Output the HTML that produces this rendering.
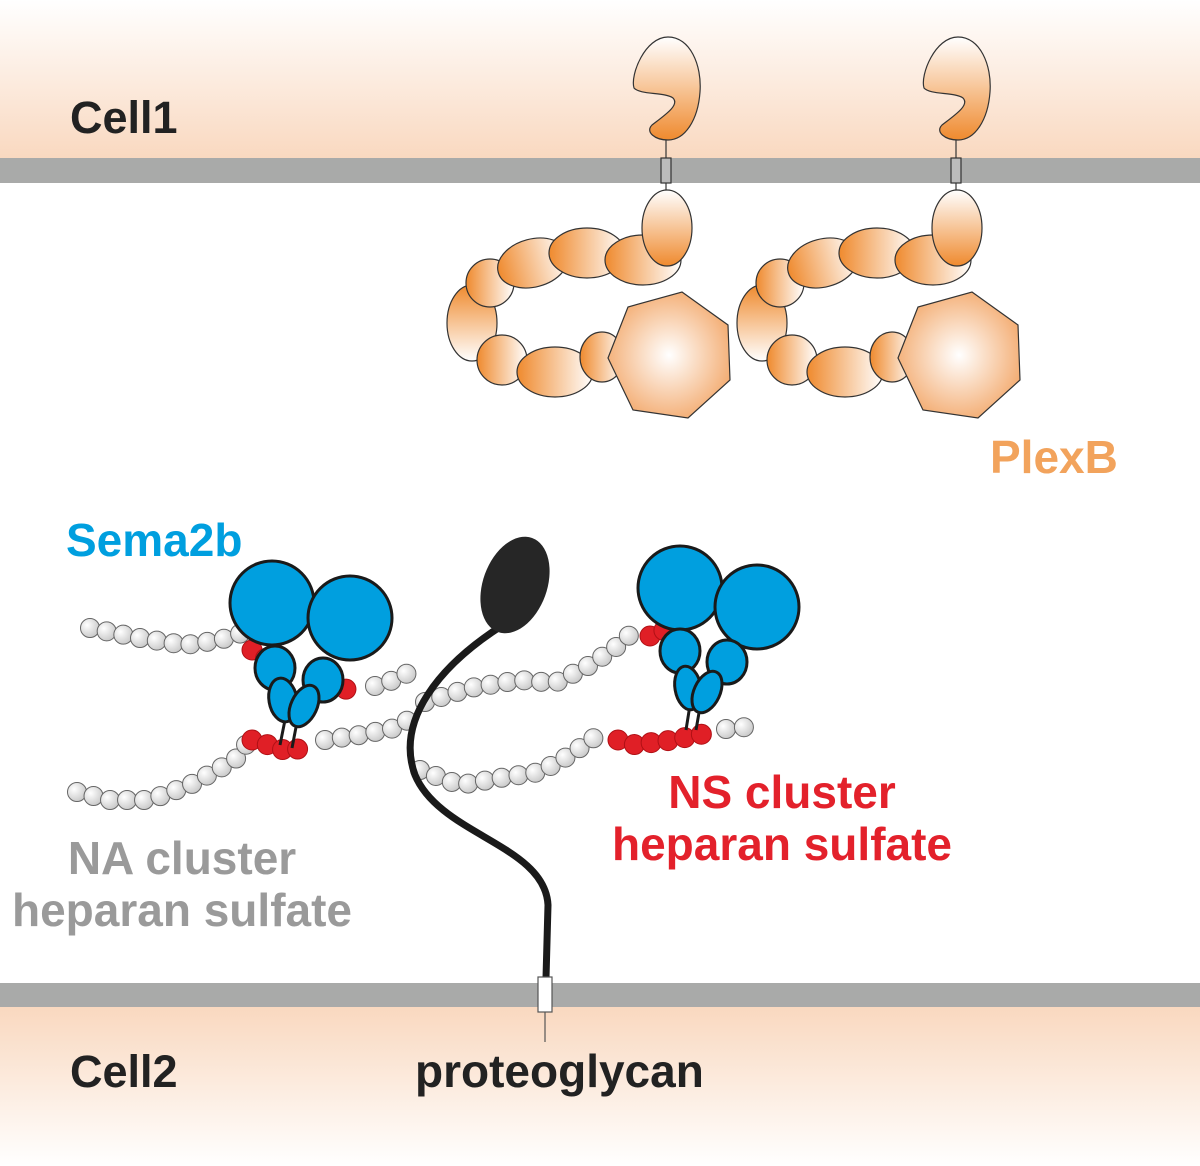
<!DOCTYPE html>
<html><head><meta charset="utf-8"><style>
body{margin:0;background:#fff}
svg{display:block}
text{font-family:"Liberation Sans",Arial,sans-serif;font-weight:bold}
</style></head><body>
<svg id="s" width="1200" height="1166" viewBox="0 0 1200 1166" xmlns="http://www.w3.org/2000/svg">
<defs>
<linearGradient id="top" x1="0" y1="0" x2="0" y2="1"><stop offset="0" stop-color="#fff"/><stop offset="1" stop-color="#f9d8bf"/></linearGradient>
<linearGradient id="bot" x1="0" y1="0" x2="0" y2="1"><stop offset="0" stop-color="#f9d8bf"/><stop offset="1" stop-color="#fff"/></linearGradient>
<radialGradient id="bead" cx="0.35" cy="0.35" r="0.7"><stop offset="0" stop-color="#fff"/><stop offset="1" stop-color="#c8c8c8"/></radialGradient>
<linearGradient id="og" x1="0" y1="0" x2="1" y2="0"><stop offset="0" stop-color="#ef8a2e"/><stop offset="1" stop-color="#fff"/></linearGradient>
<linearGradient id="ogv" x1="0" y1="1" x2="0" y2="0"><stop offset="0" stop-color="#ef8a2e"/><stop offset="1" stop-color="#fff"/></linearGradient>
<linearGradient id="ogd" x1="0" y1="0" x2="0" y2="1"><stop offset="0" stop-color="#ef8a2e"/><stop offset="1" stop-color="#fff"/></linearGradient>
<radialGradient id="hep" cx="0.5" cy="0.5" r="0.6"><stop offset="0" stop-color="#fff"/><stop offset="1" stop-color="#f2a362"/></radialGradient>
<g id="plex" stroke="#333" stroke-width="1.2">
<line x1="666" y1="135" x2="666" y2="190"/>
<rect x="661" y="158" width="10" height="25" fill="#bbb"/>
<path d="M668,37 C690,37 702,65 700,92 C698,120 685,140 668,140 C655,140 645,132 652,125 C665,115 680,105 673,98 C665,92 640,95 634,88 C630,75 645,37 668,37 Z" fill="url(#ogv)"/>
<ellipse cx="472" cy="323" rx="25" ry="38" fill="url(#ogd)"/>
<ellipse cx="502" cy="360" rx="25" ry="25" fill="url(#og)"/>
<ellipse cx="555" cy="372" rx="38" ry="25" fill="url(#og)"/>
<ellipse cx="602" cy="357" rx="22" ry="25" fill="url(#og)"/>
<ellipse cx="490" cy="283" rx="24" ry="24" fill="url(#og)"/>
<ellipse cx="533" cy="263" rx="36" ry="24" fill="url(#og)" transform="rotate(-15 533 263)"/>
<ellipse cx="587" cy="253" rx="38" ry="25" fill="url(#og)"/>
<ellipse cx="643" cy="260" rx="38" ry="25" fill="url(#og)"/>
<ellipse cx="667" cy="228" rx="25" ry="38" fill="url(#ogd)" transform="rotate(180 667 228)"/>
<polygon points="682,292 728,325 730,380 688,418 633,410 608,358 628,307" fill="url(#hep)"/>
</g>
</defs>
<rect x="0" y="0" width="1200" height="160" fill="url(#top)"/>
<rect x="0" y="158" width="1200" height="25" fill="#a9aaa9"/>
<rect x="0" y="1006" width="1200" height="160" fill="url(#bot)"/>
<rect x="0" y="983" width="1200" height="24" fill="#a9aaa9"/>
<use href="#plex"/>
<use href="#plex" x="290"/>
<g id="beads"></g>
<g stroke="#1a1a1a" stroke-width="3">
<line x1="285" y1="720" x2="280" y2="745"/><line x1="297" y1="722" x2="292" y2="748"/>
<line x1="690" y1="705" x2="686" y2="730"/><line x1="700" y1="707" x2="696" y2="730"/>
</g>
<g fill="#009fdf" stroke="#1a1a1a" stroke-width="3">
<circle cx="272" cy="603" r="42"/><circle cx="350" cy="618" r="42"/>
<ellipse cx="275" cy="668" rx="20" ry="22"/><ellipse cx="323" cy="680" rx="20" ry="22"/>
<ellipse cx="283" cy="700" rx="14" ry="22" transform="rotate(-10 283 700)"/>
<ellipse cx="304" cy="706" rx="13" ry="22" transform="rotate(25 304 706)"/>
<circle cx="680" cy="588" r="42"/><circle cx="757" cy="607" r="42"/>
<ellipse cx="680" cy="651" rx="20" ry="22"/><ellipse cx="727" cy="662" rx="20" ry="22"/>
<ellipse cx="688" cy="688" rx="13" ry="22" transform="rotate(-10 688 688)"/>
<ellipse cx="707" cy="692" rx="13" ry="22" transform="rotate(25 707 692)"/>
</g>
<path d="M503,625 C440,665 395,720 415,775 C440,835 545,845 548,905 L546,978" fill="none" stroke="#1a1a1a" stroke-width="7"/>
<ellipse cx="515" cy="585" rx="32" ry="50" fill="#262626" transform="rotate(20 515 585)"/>
<line x1="545" y1="1010" x2="545" y2="1042" stroke="#555" stroke-width="1.2"/>
<rect x="538" y="977" width="14" height="35" fill="#fff" stroke="#555" stroke-width="1.2"/>
<text x="70" y="133" font-size="45" fill="#222">Cell1</text>
<text x="70" y="1087" font-size="45" fill="#222">Cell2</text>
<text x="415" y="1087" font-size="46" fill="#222">proteoglycan</text>
<text x="990" y="473" font-size="46" fill="#f2a35c">PlexB</text>
<text x="66" y="556" font-size="46" fill="#009fdf">Sema2b</text>
<text x="182" y="874" font-size="46" fill="#9a9a9a" text-anchor="middle">NA cluster</text>
<text x="182" y="926" font-size="46" fill="#9a9a9a" text-anchor="middle">heparan sulfate</text>
<text x="782" y="808" font-size="46" fill="#e3212b" text-anchor="middle">NS cluster</text>
<text x="782" y="860" font-size="46" fill="#e3212b" text-anchor="middle">heparan sulfate</text>
</svg>
<script>
var g=document.getElementById('beads'),NS='http://www.w3.org/2000/svg';
function b(x,y,red){var c=document.createElementNS(NS,'circle');c.setAttribute('cx',x);c.setAttribute('cy',y);c.setAttribute('r',red?10:9.5);
c.setAttribute('fill',red?'#e01f26':'url(#bead)');c.setAttribute('stroke',red?'#b01015':'#666');c.setAttribute('stroke-width','1');g.appendChild(c);}
function chain(pts,step,red){var acc=0;b(pts[0][0],pts[0][1],red);for(var i=1;i<pts.length;i++){var x0=pts[i-1][0],y0=pts[i-1][1],x1=pts[i][0],y1=pts[i][1];var d=Math.hypot(x1-x0,y1-y0),t=step-acc;while(t<=d){b(x0+(x1-x0)*t/d,y0+(y1-y0)*t/d,red);t+=step;}acc=d-(t-step);}}
chain([[90,628],[140,638],[185,645],[220,640],[245,632]],17);
chain([[252,650],[268,660]],16,true);
chain([[330,688],[357,690]],16,true);
chain([[375,686],[400,678],[415,668]],17);
chain([[77,792],[110,800],[150,800],[190,785],[235,760],[248,742]],17);
chain([[252,740],[272,746],[290,752],[308,745]],16,true);
chain([[325,740],[360,735],[395,728],[408,720]],17);
chain([[425,702],[470,688],[520,680],[555,683],[590,665],[615,648],[633,632]],17);
chain([[650,636],[665,630]],15,true);
chain([[420,770],[460,785],[500,778],[540,772],[570,755],[598,735]],17);
chain([[618,740],[636,745],[655,742],[674,740],[692,736],[708,733]],17,true);
chain([[726,729],[746,727]],18);
</script>
</body></html>
